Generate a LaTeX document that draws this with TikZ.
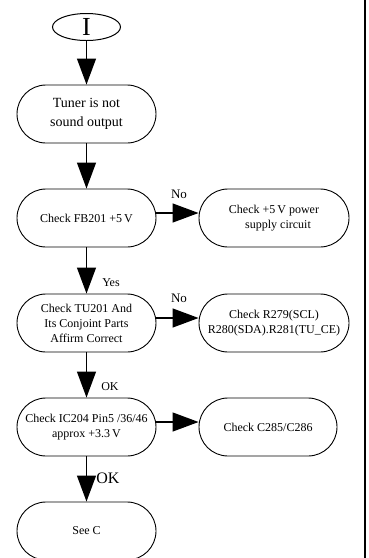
\documentclass[tikz,border=0pt]{standalone}
\usepackage{fontspec}
\setmainfont{Liberation Serif}
\usetikzlibrary{arrows.meta,shapes.geometric}
\begin{document}
\begin{tikzpicture}[x=1pt,y=-1pt,
 box/.style={draw,line width=0.9pt,rounded corners=29pt,minimum width=139pt,minimum height=58pt,inner sep=0pt,align=center,font=\fontsize{12}{15}\selectfont},
 arr/.style={line width=1.3pt,-{Triangle[length=26pt,width=19pt]}},
 lbl/.style={inner sep=0pt,font=\fontsize{12}{14}\selectfont}]
\useasboundingbox (0,0) rectangle (369,558);
\node[draw,ellipse,line width=1pt,minimum width=68pt,minimum height=27pt,inner sep=0pt,font=\fontsize{26}{26}\selectfont] (start) at (86.5,27) {I};
\node[box,font=\fontsize{14}{19}\selectfont] (tuner) at (86.5,114) {Tuner is not\\sound output};
\node[box] (fb) at (86.5,218) {Check FB201 +5\,V};
\node[box,minimum width=150pt] (p5) at (274,218) {Check +5\,V power\\\hspace{8pt}supply circuit};
\node[box] (tu) at (86.5,323) {Check TU201 And\\Its Conjoint Parts\\Affirm Correct};
\node[box,minimum width=150pt] (rr) at (274,323) {Check R279(SCL)\\R280(SDA).R281(TU\_CE)};
\node[box] (ic) at (86.5,427) {Check IC204 Pin5 /36/46\\approx +3.3\,V\hspace{30pt}};
\node[box,minimum width=138pt] (cc) at (268,427) {Check C285/C286};
\node[box] (seec) at (86.5,531) {See C};
\draw[line width=1.5pt] (365,0) -- (365,558);
\draw[arr] (start.south) -- (tuner.north);
\draw[arr] (tuner.south) -- (fb.north);
\draw[arr] (fb.south) -- (tu.north);
\draw[arr] (tu.south) -- (ic.north);
\draw[arr] (ic.south) -- (seec.north);
\draw[arr] ([yshift=5pt]fb.east) -- ([yshift=5pt]p5.west);
\draw[arr] ([yshift=5pt]tu.east) -- ([yshift=5pt]rr.west);
\draw[arr] ([yshift=5pt]ic.east) -- ([yshift=5pt]cc.west);
\node[lbl,font=\fontsize{13}{14}\selectfont] (no1) at (179,194) {No};
\node[lbl] (yes) at (111,283) {Yes};
\node[lbl,font=\fontsize{13}{14}\selectfont] (no2) at (179,298) {No};
\node[lbl] (ok1) at (110,387) {OK};
\node[lbl,font=\fontsize{16}{16}\selectfont] (ok2) at (108,478) {OK};
\end{tikzpicture}
\end{document}
